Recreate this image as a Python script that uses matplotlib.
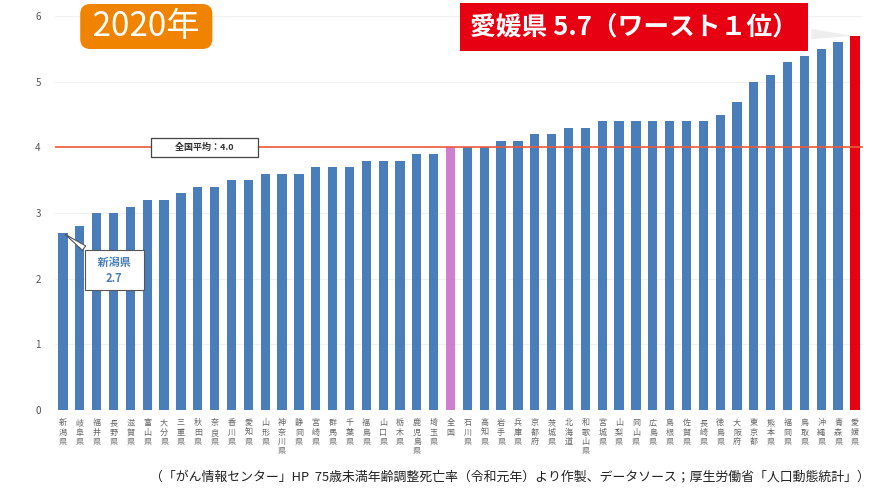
import matplotlib
matplotlib.use('Agg')
import matplotlib.pyplot as plt
import numpy as np

plt.rcParams['font.family'] = ['Noto Sans CJK JP', 'DejaVu Sans']

# prefectures sorted by rate (national average in the middle)
prefs = ['新潟県', '岐阜県', '福井県', '長野県', '滋賀県', '富山県', '大分県', '三重県',
         '秋田県', '奈良県', '香川県', '愛知県', '山形県', '神奈川県', '静岡県', '宮崎県',
         '群馬県', '千葉県', '福島県', '山口県', '栃木県', '鹿児島県', '埼玉県', '全国',
         '石川県', '高知県', '岩手県', '兵庫県', '京都府', '茨城県', '北海道', '和歌山県',
         '宮城県', '山梨県', '岡山県', '広島県', '島根県', '佐賀県', '長崎県', '徳島県',
         '大阪府', '東京都', '熊本県', '福岡県', '鳥取県', '沖縄県', '青森県', '愛媛県']
rates = [2.7, 2.8, 3.0, 3.0, 3.1, 3.2, 3.2, 3.3,
         3.4, 3.4, 3.5, 3.5, 3.6, 3.6, 3.6, 3.7,
         3.7, 3.7, 3.8, 3.8, 3.8, 3.9, 3.9, 4.0,
         4.0, 4.0, 4.1, 4.1, 4.2, 4.2, 4.3, 4.3,
         4.4, 4.4, 4.4, 4.4, 4.4, 4.4, 4.4, 4.5,
         4.7, 5.0, 5.1, 5.3, 5.4, 5.5, 5.6, 5.7]
national_avg = 4.0
yticks = [0, 1, 2, 3, 4, 5, 6]

BLUE = '#4a7ebb'
PINK = '#cf7fd0'
RED = '#e60012'

colors = []
for p in prefs:
    if p == '全国':
        colors.append(PINK)
    elif p == '愛媛県':
        colors.append(RED)
    else:
        colors.append(BLUE)

fig = plt.figure(figsize=(8.76, 4.91), dpi=100)
ax = fig.add_axes([0.0623, 0.165, 0.9233, 0.802])

x = np.arange(len(prefs))
ax.bar(x, rates, width=0.55, color=colors, zorder=2)
ax.axhline(national_avg, color='#ee5a3c', lw=1.2, zorder=3)

ax.set_xlim(-0.5, len(prefs) - 0.5)
ax.set_ylim(0, 6)
ax.set_yticks(yticks)
ax.set_yticklabels([str(t) for t in yticks], fontsize=7, color='#555555')
ax.yaxis.grid(True, color='#f0f0f0', lw=0.8, zorder=0)
ax.set_xticks(x)
ax.set_xticklabels(['\n'.join(p) for p in prefs], fontsize=5.8, color='#666666',
                   linespacing=1.05, va='top')
ax.tick_params(length=0, pad=10, axis='y')
ax.tick_params(length=0, pad=6, axis='x')
for s in ax.spines.values():
    s.set_visible(False)

# national average label
ax.text(8.4, national_avg, '          全国平均：4.0          ', fontsize=6.5, fontweight='bold',
        color='#333333', ha='center', va='center', zorder=5,
        bbox=dict(boxstyle='square,pad=0.5', fc='white', ec='#444444', lw=0.9))

# Niigata callout
ax.annotate('   新潟県   \n2.7', xy=(0, rates[0]), xytext=(3.05, 2.13),
            fontsize=8, fontweight='bold', color='#4a7ebb', ha='center', va='center',
            linespacing=1.3, zorder=6,
            bbox=dict(boxstyle='square,pad=0.5', fc='white', ec='#555555', lw=0.8),
            arrowprops=dict(arrowstyle='wedge,tail_width=0.5', fc='white', ec='#555555', lw=0.8))

# year badge
fig.text(0.167, 0.946, ' 2020年 ', fontsize=24, color='white', ha='center', va='center',
         bbox=dict(boxstyle='round,pad=0.15,rounding_size=0.3', fc='#f08300', ec='none'))

# worst banner
ax.annotate('愛媛県 5.7（ワースト１位）', xy=(len(prefs) - 1, rates[-1]),
            xytext=(0.724, 0.945), textcoords='figure fraction',
            fontsize=18.5, fontweight='bold', color='white', ha='center', va='center', zorder=7,
            bbox=dict(boxstyle='square,pad=0.4', fc=RED, ec='none'),
            arrowprops=dict(arrowstyle='wedge,tail_width=0.4', fc='#eeeeee', ec='none'))

fig.text(0.993, 0.027, '（「がん情報センター」HP  75歳未満年齢調整死亡率（令和元年）より作製、データソース；厚生労働省「人口動態統計」）',
         fontsize=9.3, color='#222222', ha='right', va='center')

fig.savefig('out.png', dpi=100, facecolor='white')
